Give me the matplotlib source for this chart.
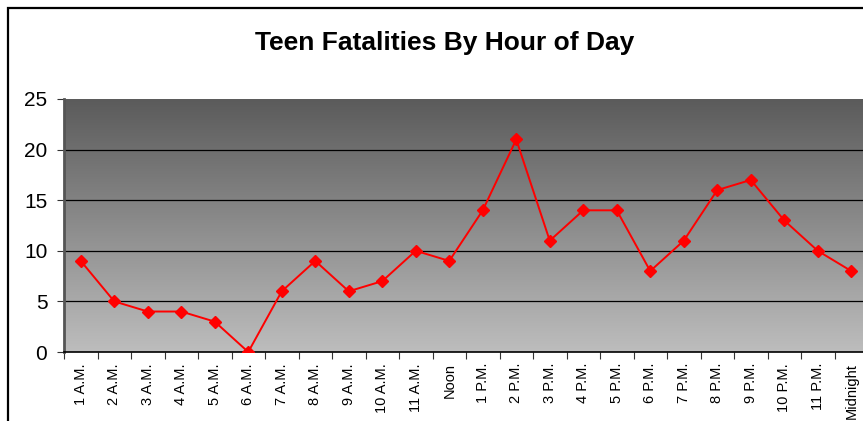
import numpy as np
import matplotlib.pyplot as plt
from matplotlib.colors import LinearSegmentedColormap
from matplotlib.patches import Rectangle

# Dữ liệu
hours = ['1 A.M.', '2 A.M.', '3 A.M.', '4 A.M.', '5 A.M.', '6 A.M.', '7 A.M.',
         '8 A.M.', '9 A.M.', '10 A.M.', '11 A.M.', 'Noon', '1 P.M.', '2 P.M.',
         '3 P.M.', '4 P.M.', '5 P.M.', '6 P.M.', '7 P.M.', '8 P.M.', '9 P.M.',
         '10 P.M.', '11 P.M.', 'Midnight']
fatalities = [9, 5, 4, 4, 3, 0, 6, 9, 6, 7, 10, 9, 14, 21, 11, 14, 14, 8, 11,
              16, 17, 13, 10, 8]
yticks = [0, 5, 10, 15, 20, 25]

plt.rcParams['font.family'] = ['Liberation Sans', 'DejaVu Sans']

W, H = 863, 421
fig = plt.figure(figsize=(W / 100, H / 100), dpi=100)

# Khung viền ngoài
fig.patches.append(Rectangle((7.5 / W, -0.1), 1.2, (H - 8.5) / H + 0.1,
                             transform=fig.transFigure, fill=False,
                             edgecolor='black', linewidth=1.6))

fig.text(445 / W, 1 - 50 / H, 'Teen Fatalities By Hour of Day',
         ha='center', va='baseline', fontsize=19, fontweight='bold')

left, right, top, bottom = 64, 868, 99, 352
ax = fig.add_axes([left / W, 1 - bottom / H, (right - left) / W, (bottom - top) / H])

n = len(hours)
x = np.arange(n)
ax.set_xlim(-0.5, n - 0.5)
ax.set_ylim(0, 25)

# Nền gradient xám (tối ở trên, sáng ở dưới)
grad = np.linspace(0, 1, 256).reshape(-1, 1)
cmap = LinearSegmentedColormap.from_list('g', ['#5b5b5b', '#bdbdbd'])
ax.imshow(grad, cmap=cmap, aspect='auto', extent=(-0.5, n - 0.5, 0, 25),
          origin='upper', zorder=0)

for v in yticks[1:-1]:
    ax.axhline(v, color='black', linewidth=0.9, zorder=1)

ax.plot(x, fatalities, color='red', linewidth=1.4, marker='D', markersize=6,
        zorder=3)

ax.set_yticks(yticks)
ax.set_yticklabels([str(v) for v in yticks], fontsize=15)
ax.set_xticks(np.arange(n + 1) - 0.5)
ax.set_xticklabels([])
ax.set_xticks(x, minor=True)
ax.set_xticklabels(hours, minor=True, rotation=90, fontsize=10.5)
ax.tick_params(axis='x', which='minor', length=0, pad=8)
ax.tick_params(axis='x', which='major', length=5, direction='out', color='#333333')
ax.tick_params(axis='y', length=5, direction='out', color='#333333', pad=7)

for s in ['top', 'right']:
    ax.spines[s].set_visible(False)
ax.spines['left'].set_color('#555555')
ax.spines['left'].set_linewidth(2)
ax.spines['bottom'].set_color('black')
ax.spines['bottom'].set_linewidth(1.2)

fig.savefig('out.png', dpi=100)
